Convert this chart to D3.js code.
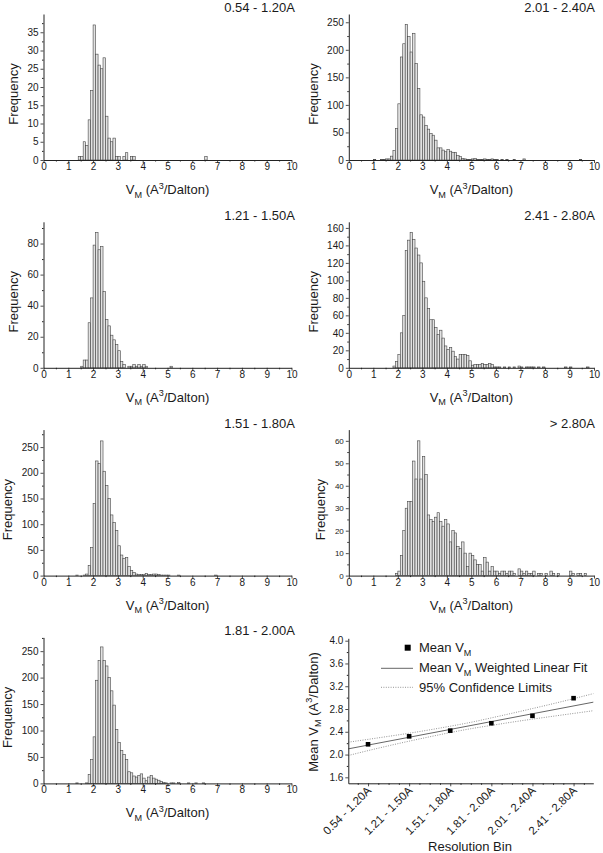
<!DOCTYPE html>
<html><head><meta charset="utf-8">
<script src="https://d3js.org/d3.v7.min.js"></script>
<style>
html,body{margin:0;padding:0;background:#fff;}
svg text{font-family:"Liberation Sans",Arial,Helvetica,sans-serif;fill:#1a1a1a;}
</style></head>
<body><svg id="chart" width="603" height="853"></svg>
<script>
// ---------------- DATA ----------------
const panelTitles = ["0.54 - 1.20A","2.01 - 2.40A","1.21 - 1.50A","2.41 - 2.80A","1.51 - 1.80A","> 2.80A","1.81 - 2.00A"];
const yMaxes = [40,265,94,167,284,65,276];
const yTickSteps = [5,50,20,20,50,10,50];
const xTickValues = [0,1,2,3,4,5,6,7,8,9,10];
const binWidth = 0.1;

// [bin start (A^3/Da), frequency]
const hist054to120 = [[1.4,1],[1.5,1],[1.6,5],[1.7,4],[1.8,11],[1.9,19],[2.0,37],[2.1,29],[2.2,26],[2.3,25],[2.4,28],[2.5,12],[2.6,6],[2.7,5],[2.8,6],[2.9,1],[3.0,1],[3.2,1],[3.3,2],[3.5,1],[3.6,1],[6.5,1]];
const hist201to240 = [[1.0,1],[1.3,1],[1.4,1],[1.5,2],[1.6,2],[1.7,7],[1.8,17],[1.9,57],[2.0,102],[2.1,187],[2.2,211],[2.3,246],[2.4,224],[2.5,196],[2.6,230],[2.7,175],[2.8,130],[2.9,82],[3.0,78],[3.1,63],[3.2,56],[3.3,48],[3.4,45],[3.5,36],[3.6,22],[3.7,22],[3.8,18],[3.9,15],[4.0,19],[4.1,16],[4.2,14],[4.3,14],[4.4,8],[4.5,6],[4.6,3],[4.7,2],[4.8,1],[4.9,1],[5.0,2],[5.1,3],[5.2,1],[5.3,1],[5.4,1],[5.5,2],[5.6,1],[5.7,1],[5.8,2],[5.9,1],[6.0,1],[6.2,1],[6.4,1],[6.7,1],[7.1,2],[9.4,1]];
const hist121to150 = [[1.5,1],[1.6,5],[1.7,5],[1.8,29],[1.9,45],[2.0,79],[2.1,87],[2.2,76],[2.3,78],[2.4,49],[2.5,31],[2.6,27],[2.7,21],[2.8,18],[2.9,15],[3.0,11],[3.1,4],[3.2,2],[3.4,1],[3.5,1],[3.6,2],[3.7,1],[3.8,2],[3.9,1],[4.0,2],[4.1,1],[5.1,1]];
const hist241to280 = [[1.8,2],[1.9,7],[2.0,15],[2.1,40],[2.2,60],[2.3,134],[2.4,146],[2.5,155],[2.6,147],[2.7,137],[2.8,129],[2.9,120],[3.0,99],[3.1,80],[3.2,68],[3.3,55],[3.4,55],[3.5,46],[3.6,38],[3.7,43],[3.8,34],[3.9,25],[4.0,21],[4.1,23],[4.2,19],[4.3,13],[4.4,10],[4.5,15],[4.6,15],[4.7,15],[4.8,14],[4.9,8],[5.0,3],[5.1,4],[5.2,4],[5.3,4],[5.4,5],[5.5,4],[5.6,4],[5.7,5],[5.8,4],[5.9,1],[6.0,1],[6.1,1],[6.3,1],[6.5,1],[6.7,1],[6.9,2],[7.0,1],[7.2,1],[7.3,1],[7.4,1],[7.5,1],[7.7,1],[7.9,1],[8.8,1],[9.0,1],[9.7,1]];
const hist151to180 = [[1.3,1],[1.6,1],[1.7,3],[1.8,20],[1.9,55],[2.0,140],[2.1,223],[2.2,218],[2.3,262],[2.4,203],[2.5,175],[2.6,150],[2.7,118],[2.8,103],[2.9,88],[3.0,58],[3.1,40],[3.2,33],[3.3,35],[3.4,18],[3.5,10],[3.6,6],[3.7,3],[3.8,2],[3.9,2],[4.0,2],[4.1,4],[4.2,2],[4.3,2],[4.4,3],[4.5,3],[4.6,2],[4.7,1],[4.8,1],[4.9,1],[5.0,1],[5.4,1],[6.9,1]];
const histOver280 = [[1.9,1],[2.0,2],[2.1,9],[2.2,20],[2.3,30],[2.4,33],[2.5,33],[2.6,51],[2.7,43],[2.8,60],[2.9,43],[3.0,53],[3.1,45],[3.2,27],[3.3,25],[3.4,24],[3.5,26],[3.6,28],[3.7,24],[3.8,22],[3.9,25],[4.0,23],[4.1,15],[4.2,20],[4.3,19],[4.4,13],[4.5,12],[4.6,15],[4.7,10],[4.8,4],[4.9,10],[5.0,9],[5.1,7],[5.2,5],[5.3,5],[5.4,2],[5.5,8],[5.6,6],[5.7,2],[5.8,4],[5.9,2],[6.0,2],[6.1,1],[6.2,2],[6.3,2],[6.4,1],[6.5,2],[6.6,2],[6.7,1],[6.9,3],[7.0,2],[7.1,1],[7.2,2],[7.3,1],[7.4,1],[7.5,2],[7.7,1],[7.8,1],[8.0,1],[8.2,2],[8.3,1],[8.5,1],[9.0,2],[9.1,1],[9.3,1],[9.4,1],[9.6,1]];
const hist181to200 = [[1.3,1],[1.7,1],[1.8,17],[1.9,45],[2.0,88],[2.1,195],[2.2,232],[2.3,258],[2.4,232],[2.5,222],[2.6,200],[2.7,175],[2.8,148],[2.9,102],[3.0,77],[3.1,62],[3.2,55],[3.3,45],[3.4,22],[3.5,20],[3.6,14],[3.7,12],[3.8,15],[3.9,18],[4.0,10],[4.1,5],[4.2,12],[4.3,15],[4.4,10],[4.5,8],[4.6,6],[4.7,4],[4.8,2],[4.9,1],[5.1,1],[5.2,1],[5.4,2],[5.8,1],[6.1,1],[6.4,1]];
const histograms = [hist054to120, hist201to240, hist121to150, hist241to280, hist151to180, histOver280, hist181to200];

// summary panel
const resolutionBins = ["0.54 - 1.20A","1.21 - 1.50A","1.51 - 1.80A","1.81 - 2.00A","2.01 - 2.40A","2.41 - 2.80A"];
const meanVM = [2.18,2.32,2.42,2.55,2.68,2.99];
const fitX = [0.52, 6.48];
const fitY = [2.10, 2.92];
const confX = [0.52,1,1.5,2,2.5,3,3.5,4,4.5,5,5.5,6,6.48];
const confUpper = [2.217,2.267,2.320,2.375,2.434,2.498,2.566,2.644,2.725,2.808,2.893,2.982,3.070];
const confLower = [1.983,2.069,2.154,2.235,2.312,2.386,2.454,2.512,2.569,2.622,2.673,2.722,2.770];
const meanYTicks = [1.6,2.0,2.4,2.8,3.2,3.6,4.0];
const legendLabels = ["Mean V", "Mean V", "95% Confidence Limits"];

// ---------------- DRAW ----------------
const svg = d3.select("#chart");
const ink = "#222";

function styleAxis(g, fs) {
  g.select(".domain").attr("stroke", ink).attr("stroke-width", 1);
  g.selectAll(".tick line").attr("stroke", ink).attr("stroke-width", 0.8);
  g.selectAll(".tick text").attr("font-size", fs).attr("fill", "#1a1a1a");
}
function vmText(sel, fs) {
  sel.append("tspan").text("V");
  sel.append("tspan").attr("font-size", fs*0.7).attr("dy", fs*0.28).text("M");
  sel.append("tspan").attr("dy", -fs*0.28).text(" (A");
  sel.append("tspan").attr("font-size", fs*0.7).attr("dy", -fs*0.42).text("3");
  sel.append("tspan").attr("dy", fs*0.42).text("/Dalton)");
}

histograms.forEach((bins, i) => {
  const col = i % 2, row = Math.floor(i / 2);
  const ax = col ? 348.8 : 43.5;
  const aw = col ? 245.2 : 248;
  const y0 = 160 + row * 207.8;
  const h = 146;
  const x = d3.scaleLinear().domain([0, 10]).range([ax, ax + aw]);
  const y = d3.scaleLinear().domain([0, yMaxes[i]]).range([y0, y0 - h]);
  const g = svg.append("g");

  g.append("g").selectAll("rect").data(bins).join("rect")
    .attr("x", d => x(d[0]))
    .attr("width", d => x(d[0] + binWidth) - x(d[0]))
    .attr("y", d => y(d[1]))
    .attr("height", d => y0 - y(d[1]))
    .attr("fill", "#e2e2e2").attr("stroke", "#444").attr("stroke-width", 0.6);

  // minor ticks
  g.append("g").attr("transform", `translate(0,${y0})`)
    .call(d3.axisBottom(x).tickValues(d3.range(0.5, 10, 1)).tickSize(1.5).tickSizeOuter(0).tickFormat(""))
    .call(s => { s.select(".domain").remove(); s.selectAll("line").attr("stroke", ink); });
  g.append("g").attr("transform", `translate(${ax},0)`)
    .call(d3.axisLeft(y).tickValues(d3.range(yTickSteps[i] / 2, yMaxes[i], yTickSteps[i])).tickSize(1.5).tickSizeOuter(0).tickFormat(""))
    .call(s => { s.select(".domain").remove(); s.selectAll("line").attr("stroke", ink); });

  const xa = g.append("g").attr("transform", `translate(0,${y0})`)
    .call(d3.axisBottom(x).tickValues(xTickValues).tickSize(3).tickSizeOuter(0).tickPadding(0).tickFormat(d3.format("d")));
  styleAxis(xa, 10);
  const ya = g.append("g").attr("transform", `translate(${ax},0)`)
    .call(d3.axisLeft(y).tickValues(d3.range(0, yMaxes[i], yTickSteps[i])).tickSize(3).tickSizeOuter(0).tickPadding(2).tickFormat(d3.format("d")));
  styleAxis(ya, i === 5 ? 8 : 10);

  const bb = ya.node().getBBox();
  g.append("text")
    .attr("transform", `translate(${ax + bb.x - 14},${y0 - h / 2 + 7}) rotate(-90)`)
    .attr("text-anchor", "middle").attr("dy", "0.35em").attr("font-size", 13)
    .text("Frequency");

  g.append("text").attr("x", ax + aw / 2).attr("y", y0 + 34)
    .attr("text-anchor", "middle").attr("font-size", 13)
    .call(s => vmText(s, 13));

  g.append("text").attr("x", col ? 595 : 295).attr("y", y0 - 148)
    .attr("text-anchor", "end").attr("font-size", 13).text(panelTitles[i]);
});

// ---------- summary panel ----------
{
  const ax = 348.3, ay0 = 783.3;
  const sx = d3.scaleLinear().domain([0.52, 6.48]).range([348.3, 593.3]);
  const sy = d3.scaleLinear().domain([1.495, 4.042]).range([783.3, 638.3]);
  const g = svg.append("g");

  const line = d3.line().x(d => sx(d[0])).y(d => sy(d[1])).curve(d3.curveNatural);
  g.append("path").attr("d", line(confX.map((v, k) => [v, confUpper[k]])))
    .attr("fill", "none").attr("stroke", "#888").attr("stroke-width", 0.9).attr("stroke-dasharray", "1,1.4");
  g.append("path").attr("d", line(confX.map((v, k) => [v, confLower[k]])))
    .attr("fill", "none").attr("stroke", "#888").attr("stroke-width", 0.9).attr("stroke-dasharray", "1,1.4");
  g.append("path").attr("d", d3.line().x(d => sx(d[0])).y(d => sy(d[1]))(fitX.map((v, k) => [v, fitY[k]])))
    .attr("fill", "none").attr("stroke", "#666").attr("stroke-width", 1);

  g.selectAll("rect.pt").data(meanVM).join("rect").attr("class", "pt")
    .attr("x", (d, k) => sx(k + 1) - 2.3).attr("y", d => sy(d) - 2.3)
    .attr("width", 4.6).attr("height", 4.6).attr("fill", "#000");

  // minor ticks
  g.append("g").attr("transform", `translate(${ax},0)`)
    .call(d3.axisLeft(sy).tickValues(d3.range(1.8, 4.0, 0.4)).tickSize(1.5).tickSizeOuter(0).tickFormat(""))
    .call(s => { s.select(".domain").remove(); s.selectAll("line").attr("stroke", ink); });
  g.append("g").attr("transform", `translate(0,${ay0})`)
    .call(d3.axisBottom(sx).tickValues(d3.range(0.75, 6.5, 0.25).filter(v => Math.abs(v - Math.round(v)) > 0.01)).tickSize(1.5).tickSizeOuter(0).tickFormat(""))
    .call(s => { s.select(".domain").remove(); s.selectAll("line").attr("stroke", ink); });

  const ya = g.append("g").attr("transform", `translate(${ax},0)`)
    .call(d3.axisLeft(sy).tickValues(meanYTicks).tickSize(3).tickSizeOuter(0).tickPadding(2).tickFormat(d3.format(".1f")));
  styleAxis(ya, 10);
  const xa = g.append("g").attr("transform", `translate(0,${ay0})`)
    .call(d3.axisBottom(sx).tickValues(d3.range(1, 7)).tickSize(3).tickSizeOuter(0).tickFormat(""));
  styleAxis(xa, 10);

  g.selectAll("text.cat").data(resolutionBins).join("text").attr("class", "cat")
    .attr("transform", (d, k) => `translate(${sx(k + 1) + 4},${ay0 + 8}) rotate(-45)`)
    .attr("text-anchor", "end").attr("font-size", 11.5).text(d => d);

  g.append("text").attr("x", 470).attr("y", 851).attr("text-anchor", "middle")
    .attr("font-size", 13).text("Resolution Bin");

  const yl = g.append("text")
    .attr("transform", `translate(313,712) rotate(-90)`)
    .attr("text-anchor", "middle").attr("dy", "0.35em").attr("font-size", 13);
  yl.append("tspan").text("Mean ");
  vmText(yl, 13);

  // legend
  g.append("rect").attr("x", 407.7 - 3).attr("y", 647.7 - 3).attr("width", 6).attr("height", 6).attr("fill", "#000");
  const t1 = g.append("text").attr("x", 419).attr("y", 652).attr("font-size", 13);
  t1.append("tspan").text(legendLabels[0]);
  t1.append("tspan").attr("font-size", 9).attr("dy", 3.5).text("M");

  g.append("line").attr("x1", 381).attr("x2", 413).attr("y1", 668.3).attr("y2", 668.3)
    .attr("stroke", "#666").attr("stroke-width", 1);
  const t2 = g.append("text").attr("x", 419).attr("y", 672).attr("font-size", 13);
  t2.append("tspan").text(legendLabels[1]);
  t2.append("tspan").attr("font-size", 9).attr("dy", 3.5).text("M");
  t2.append("tspan").attr("dy", -3.5).text(" Weighted Linear Fit");

  g.append("line").attr("x1", 381).attr("x2", 413).attr("y1", 687.3).attr("y2", 687.3)
    .attr("stroke", "#888").attr("stroke-width", 0.9).attr("stroke-dasharray", "1,1.4");
  g.append("text").attr("x", 419).attr("y", 692).attr("font-size", 13).text(legendLabels[2]);
}
</script>
</body></html>
